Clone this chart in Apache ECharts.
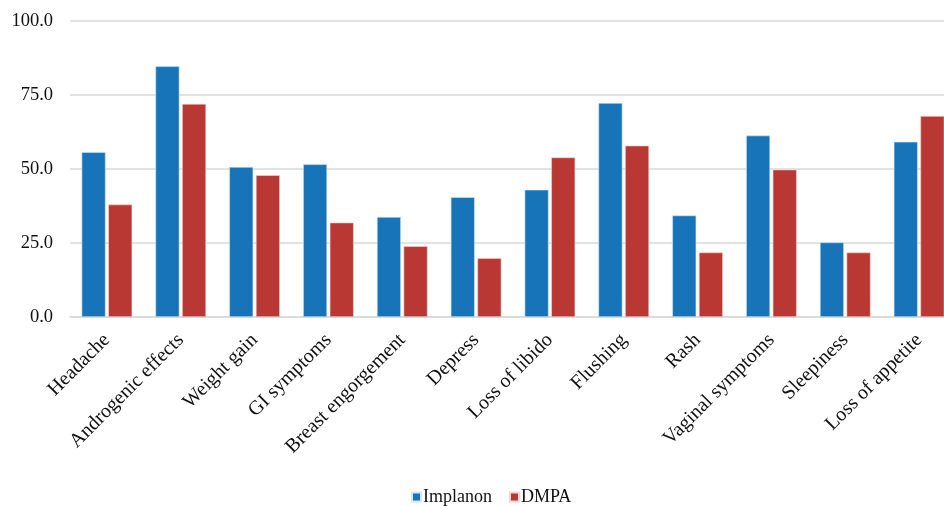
<!DOCTYPE html>
<html>
<head>
<meta charset="utf-8">
<script src="https://cdn.jsdelivr.net/npm/echarts@6/dist/echarts.min.js"></script>
<style>
html,body{margin:0;padding:0;background:#fff;}
#chart{width:944px;height:506px;}
</style>
</head>
<body>
<div id="chart"></div>
<script>
var categories = ['Headache','Androgenic effects','Weight gain','GI symptoms','Breast engorgement','Depress','Loss of libido','Flushing','Rash','Vaginal symptoms','Sleepiness','Loss of appetite'];
var implanon = [55.7, 84.7, 50.7, 51.6, 33.8, 40.5, 43.0, 72.3, 34.3, 61.3, 25.2, 59.2];
var dmpa = [38.0, 72.0, 47.9, 31.9, 23.9, 19.9, 53.9, 57.9, 21.8, 49.8, 21.8, 67.9];
var seriesNames = ['Implanon','DMPA'];

var font = '"Liberation Serif","Times New Roman",serif';
var chart = echarts.init(document.getElementById('chart'), null, {renderer:'canvas'});
chart.setOption({
  animation:false,
  backgroundColor:'#fff',
  grid:{left:70, width:886, top:21, height:296, containLabel:false, outerBoundsMode:'none'},
  legend:{
    data:seriesNames,
    top:483,
    left:406,
    itemWidth:9, itemHeight:9, itemGap:17,
    icon:'rect',
    textStyle:{fontFamily:font, fontSize:18, color:'#111', padding:[0,0,0,-3]}
  },
  xAxis:{
    type:'category',
    data:categories,
    axisLine:{show:true, lineStyle:{color:'#d9d9d9', width:1.5}},
    axisTick:{show:false},
    axisLabel:{rotate:45, interval:0, margin:20, fontFamily:font, fontSize:20, color:'#111'}
  },
  yAxis:{
    type:'value',
    min:0, max:100, interval:25,
    axisLine:{show:false},
    axisTick:{show:false},
    splitLine:{lineStyle:{color:'#d9d9d9', width:1.5}},
    axisLabel:{margin:17, fontFamily:font, fontSize:18.5, color:'#111',
      formatter:function(v){return v.toFixed(1);}}
  },
  series:[
    {name:seriesNames[0], type:'bar', data:implanon, barWidth:24, barGap:'11%',
     itemStyle:{color:'#1874b9', borderColor:'#d6e6f3', borderWidth:0.6}},
    {name:seriesNames[1], type:'bar', data:dmpa, barWidth:24,
     itemStyle:{color:'#b93834', borderColor:'#f0d6d5', borderWidth:0.6}}
  ]
});
</script>
</body>
</html>
